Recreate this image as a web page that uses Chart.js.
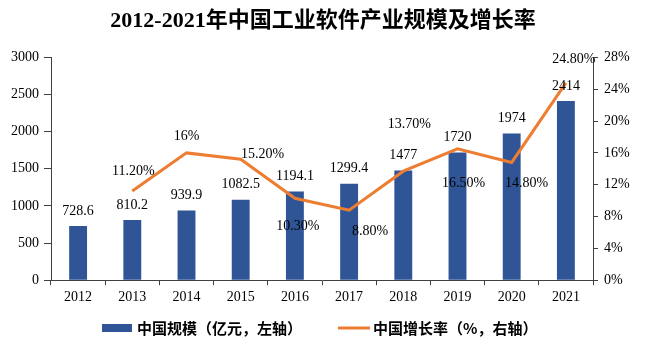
<!DOCTYPE html>
<html>
<head>
<meta charset="utf-8">
<script src="https://cdn.jsdelivr.net/npm/chart.js@4.4.1/dist/chart.umd.min.js"></script>
<style>
  html, body { margin: 0; padding: 0; background: #fff; }
  #wrap { width: 646px; height: 349px; position: relative; }
</style>
</head>
<body>
<div id="wrap"><canvas id="c" width="646" height="349"></canvas></div>
<script>
// ---- data ----
const years = ['2012','2013','2014','2015','2016','2017','2018','2019','2020','2021'];
const scaleValues = [728.6, 810.2, 939.9, 1082.5, 1194.1, 1299.4, 1477, 1720, 1974, 2414];
const growthRates = [null, 11.2, 16, 15.2, 10.3, 8.8, 13.7, 16.5, 14.8, 24.8];
const growthLabels = ['', '11.20%', '16%', '15.20%', '10.30%', '8.80%', '13.70%', '16.50%', '14.80%', '24.80%'];
const leftTicks = [0, 500, 1000, 1500, 2000, 2500, 3000];
const rightTicks = [0, 4, 8, 12, 16, 20, 24, 28];
const titleText = '2012-2021年中国工业软件产业规模及增长率';
const barName = '中国规模（亿元，左轴）';
const lineName = '中国增长率（%，右轴）';

// ---- style (label placement relative to points) ----
const lineLabelDx = [0, 1, 0, 22, 3, 21, 6, 6, 15, 8];
const lineLabelDy = [0, -20, -17, -5, 28, 21, -47, 34, 21, -24];

const BAR = '#2F5597';
const LINE = '#ED7D31';
const AXIS = '#404040';
const SERIF = '"Liberation Serif", "Times New Roman", serif';
const CJK = '"Liberation Serif", "Noto Sans CJK SC", serif';
const LEGEND_FONT = 'bold 15px "Noto Sans CJK SC", sans-serif';

const labelPlugin = {
  id: 'valueLabels',
  afterDatasetsDraw(chart) {
    const ctx = chart.ctx;
    ctx.save();
    ctx.fillStyle = '#000';
    ctx.font = '14px ' + SERIF;
    ctx.textAlign = 'center';
    ctx.textBaseline = 'middle';
    const barMeta = chart.getDatasetMeta(0);
    barMeta.data.forEach((el, i) => {
      ctx.fillText(String(scaleValues[i]), el.x, el.y - 15);
    });
    const lineMeta = chart.getDatasetMeta(1);
    lineMeta.data.forEach((el, i) => {
      if (growthRates[i] == null) return;
      ctx.fillText(growthLabels[i], el.x + lineLabelDx[i], el.y + lineLabelDy[i]);
    });
    ctx.restore();
  }
};

// legend drawn below the axis, two entries side by side
const legendPlugin = {
  id: 'bottomLegend',
  afterDraw(chart) {
    const ctx = chart.ctx;
    const y = 328;
    ctx.save();
    ctx.font = LEGEND_FONT;
    ctx.textBaseline = 'middle';
    ctx.textAlign = 'left';
    ctx.fillStyle = BAR;
    ctx.fillRect(102, y - 4, 30, 8);
    ctx.fillStyle = '#000';
    ctx.fillText(barName, 137, y);
    ctx.strokeStyle = LINE;
    ctx.lineWidth = 3;
    ctx.beginPath();
    ctx.moveTo(338, y);
    ctx.lineTo(370, y);
    ctx.stroke();
    ctx.fillStyle = '#000';
    ctx.fillText(lineName, 373, y);
    ctx.restore();
  }
};

new Chart(document.getElementById('c'), {
  data: {
    labels: years,
    datasets: [
      {
        type: 'bar',
        label: barName,
        data: scaleValues,
        backgroundColor: BAR,
        yAxisID: 'y',
        barPercentage: 0.33,
        categoryPercentage: 1.0,
        order: 2
      },
      {
        type: 'line',
        label: lineName,
        data: growthRates,
        borderColor: LINE,
        backgroundColor: LINE,
        borderWidth: 3,
        pointRadius: 0,
        tension: 0,
        yAxisID: 'y1',
        order: 1
      }
    ]
  },
  options: {
    responsive: false,
    animation: false,
    devicePixelRatio: 1,
    layout: { padding: { top: 0, bottom: 39, left: 0, right: 0 } },
    plugins: {
      title: {
        display: true,
        text: titleText,
        color: '#000',
        font: { family: CJK, size: 22, weight: 'bold' },
        padding: { top: 8, bottom: 23 }
      },
      legend: { display: false },
      tooltip: { enabled: false }
    },
    scales: {
      x: {
        offset: true,
        grid: { display: true, drawOnChartArea: false, drawTicks: true, tickLength: 5, color: AXIS, offset: true },
        border: { display: true, color: AXIS, width: 1 },
        ticks: { color: '#000', font: { family: SERIF, size: 14 }, padding: 4, maxRotation: 0, autoSkip: false }
      },
      y: {
        position: 'left',
        min: 0, max: 3000,
        afterBuildTicks(scale) { scale.ticks = leftTicks.map(v => ({ value: v })); },
        grid: { display: true, drawOnChartArea: false, drawTicks: true, tickLength: 7, color: AXIS },
        border: { display: true, color: AXIS, width: 1 },
        ticks: { color: '#000', font: { family: SERIF, size: 14 }, padding: 5, callback: v => String(v) },
        afterFit(scale) { scale.width = 51; }
      },
      y1: {
        position: 'right',
        min: 0, max: 28,
        afterBuildTicks(scale) { scale.ticks = rightTicks.map(v => ({ value: v })); },
        grid: { display: true, drawOnChartArea: false, drawTicks: true, tickLength: 5, color: AXIS },
        border: { display: true, color: AXIS, width: 1 },
        ticks: { color: '#000', font: { family: SERIF, size: 14 }, padding: 6, callback: v => v + '%' },
        afterFit(scale) { scale.width = 53; }
      }
    }
  },
  plugins: [labelPlugin, legendPlugin]
});
</script>
</body>
</html>
